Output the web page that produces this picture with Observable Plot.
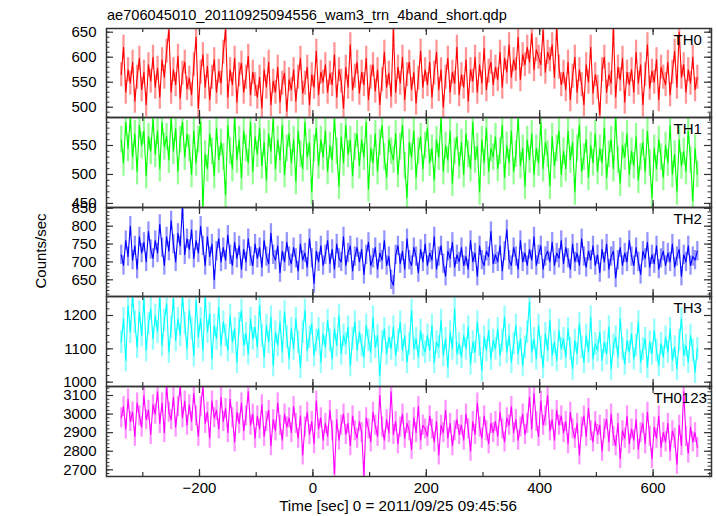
<!DOCTYPE html>
<html><head><meta charset="utf-8">
<script src="https://cdn.jsdelivr.net/npm/d3@7"></script>
<script src="https://cdn.jsdelivr.net/npm/@observablehq/plot@0.6"></script>
<style>
html,body{margin:0;padding:0;background:#fff;}
#chart{position:relative;width:717px;height:516px;font-family:"Liberation Sans",Arial,sans-serif;}
#chart svg{position:absolute;left:0;overflow:visible;}
</style></head><body><div id="chart"></div>
<script>
const titleText = "ae706045010_20110925094556_wam3_trn_4band_short.qdp";
const xLabelText = "Time [sec] 0 = 2011/09/25 09:45:56";
const yLabelText = "Counts/sec";
const bandNames = ["TH0", "TH1", "TH2", "TH3", "TH0123"];
const bandColors = ["#ff0000", "#00ff00", "#0000ff", "#00ffff", "#ff00ff"];
const timeStart = -338, binSize = 4;           // time of first bin, bin width (s)
const xTickLabels = [-200, 0, 200, 400, 600];
const bandErrors = [24, 23, 27, 34, 54];         // 1-sigma error per bin

const th0 = [
565,620,530,575,548,590,512,560,598,535,570,505,585,552,600,
540,578,520,595,560,612,655,530,575,545,602,518,568,590,537,
558,525,585,640,498,570,605,540,582,515,560,595,530,572,548,
610,655,520,575,545,598,510,565,588,530,560,602,525,570,545,
520,560,498,575,540,590,505,552,530,580,510,548,568,492,555,
535,575,512,560,598,528,548,580,505,565,540,612,525,570,550,
585,530,568,545,605,520,575,552,498,580,540,625,535,562,590,
528,570,545,598,515,560,585,532,575,505,555,610,540,568,522,
655,530,580,548,600,515,565,590,535,570,508,558,612,540,575,
545,590,520,568,610,535,575,500,560,598,530,570,548,620,525,
565,540,595,512,575,552,600,530,585,548,618,535,572,590,545,
580,555,610,540,598,570,625,560,595,575,640,555,605,585,620,
590,648,575,615,600,585,655,570,610,595,625,560,657,580,545,
570,535,590,515,562,600,530,575,545,505,585,550,620,528,565,
540,485,575,600,530,565,548,657,520,580,555,598,510,570,545,
575,530,610,548,585,505,565,625,538,572,550,595,515,580,560,
545,590,525,570,612,540,650,560,585,530,575,548,600,535,560];

const th1 = [
560,520,590,545,598,530,570,505,585,550,575,498,565,540,596,
535,575,510,590,548,565,525,598,540,580,505,560,590,530,570,
545,500,575,520,560,590,445,535,510,570,540,498,580,525,555,
530,465,585,540,510,598,525,560,495,575,545,520,590,505,565,
535,580,515,555,490,570,540,596,510,560,525,585,500,545,570,
520,560,488,575,535,510,590,530,555,470,545,580,515,560,530,
575,505,550,525,595,540,480,565,520,585,535,560,498,548,570,
515,560,530,590,475,545,520,570,505,555,585,530,495,560,540,
525,570,500,548,585,515,460,555,530,575,495,540,565,510,550,
580,520,545,490,560,530,598,505,550,525,575,485,540,565,515,
555,500,570,535,510,590,525,548,470,560,520,580,505,545,530,
565,510,540,585,495,550,520,575,505,535,598,515,545,480,560,
525,570,500,545,520,590,510,555,535,480,565,515,545,575,500,
540,510,575,525,555,470,545,585,505,530,560,495,550,520,570,
505,545,520,580,495,535,560,510,598,525,485,550,530,570,500,
540,515,565,490,530,555,505,575,520,460,545,510,560,530,495,
550,520,585,500,535,470,560,515,540,505,575,525,455,545,500];

const th2 = [
720,690,760,715,800,705,745,680,770,725,755,700,785,735,710,
760,725,805,740,690,770,730,815,750,700,780,745,853,720,765,
735,790,710,760,725,800,745,690,770,715,750,650,730,765,700,
740,705,775,720,690,755,710,745,680,735,700,765,715,690,750,
710,740,685,760,715,695,780,720,705,745,670,730,700,755,715,
695,740,710,675,750,705,725,685,765,710,640,730,700,745,690,
720,760,695,735,680,750,710,700,770,690,725,745,675,715,740,
700,735,665,720,755,690,710,740,680,725,705,760,690,715,650,
635,720,745,695,730,680,765,705,690,740,715,670,735,700,750,
690,725,705,770,680,715,745,695,660,730,710,755,685,720,700,
740,690,715,680,760,700,725,660,745,705,690,730,715,785,695,
720,700,745,675,730,790,705,690,740,715,680,760,700,725,690,
735,705,770,690,720,745,680,715,730,700,755,690,725,710,760,
695,740,710,680,750,700,725,690,765,715,685,730,705,745,690,
720,670,735,700,750,680,715,730,655,705,740,690,725,700,760,
715,690,740,700,665,730,710,755,685,720,695,745,680,710,730,
690,725,700,750,685,715,735,660,720,700,745,690,715,705,730];

const th3 = [
1120,1190,1065,1230,1150,1257,1180,1105,1210,1140,1250,1095,1175,1220,1130,
1200,1150,1257,1110,1185,1235,1090,1165,1250,1125,1190,1140,1257,1175,1100,
1215,1160,1080,1245,1135,1190,1095,1257,1150,1205,1070,1170,1130,1225,1110,
1180,1140,1095,1200,1120,1160,1060,1175,1215,1110,1145,1085,1190,1130,1165,
1105,1230,1140,1075,1170,1120,1195,1050,1150,1110,1180,1090,1210,1135,1070,
1160,1100,1190,1120,1045,1150,1215,1095,1135,1175,1080,1125,1160,1060,1145,
1105,1185,1125,1070,1160,1110,1200,1085,1140,1115,1165,1050,1130,1180,1095,
1150,1110,1075,1170,1125,1090,1195,1105,1140,1020,1120,1160,1085,1135,1100,
1165,1080,1125,1180,1095,1140,1060,1115,1215,1100,1130,1075,1155,1110,1090,
1140,1095,1170,1060,1120,1105,1185,1080,1130,1045,1150,1100,1220,1085,1115,
1075,1140,1100,1165,1055,1120,1090,1180,1110,1035,1135,1095,1155,1070,1125,
1100,1160,1080,1125,1195,1090,1140,1060,1115,1170,1085,1130,1050,1105,1150,
1240,1090,1130,1070,1170,1105,1045,1145,1095,1185,1080,1120,1065,1155,1100,
1130,1075,1160,1100,1040,1125,1085,1175,1105,1060,1140,1090,1195,1070,1115,
1095,1150,1065,1120,1085,1165,1040,1110,1135,1075,1190,1100,1055,1125,1090,
1145,1070,1110,1180,1060,1100,1130,1045,1120,1085,1155,1095,1050,1115,1075,
1135,1090,1160,1065,1105,1040,1125,1190,1080,1110,1060,1140,1095,1030,1100];

const th0123 = [
2980,3040,2920,3080,2960,3010,2880,3060,2990,2930,3100,2970,3020,2890,3050,
3000,3120,2950,3060,2900,3148,3010,2970,3090,2930,3040,3148,2980,3070,2940,
3050,2960,3110,2990,2880,3040,3148,2950,3010,2870,3070,2980,3020,2920,3090,
2960,3030,2900,3080,2980,2850,3010,2950,3060,2910,2990,3120,2940,3000,2870,
2990,2920,3050,2880,2960,3020,2830,2970,2910,3060,2940,2860,3000,2930,2980,
2900,3040,2950,2870,2990,2780,2930,3010,2890,2960,2840,3070,2920,2980,2860,
2950,2880,3020,2910,2680,2970,2860,2940,3000,2890,2950,2830,2990,2910,2870,
2960,2900,2670,2980,2920,2850,3010,2940,2880,3100,2930,2860,2970,2900,3120,
2890,2960,2840,2930,3000,2870,2950,2910,2810,2980,2900,3040,2860,2940,2920,
2880,2990,2920,2850,2960,2780,2940,2900,3020,2870,2950,2830,2910,2970,2890,
2940,2860,3000,2920,2800,2960,2890,3060,2930,2870,2990,2910,2840,2950,2900,
2960,2880,3010,2920,2850,2980,2940,3040,2900,2970,2860,2930,3000,2890,2950,
3090,2920,3110,2960,2880,3070,2940,2990,3100,2910,2970,2860,3020,2940,2990,
2900,2960,2840,3010,2920,2870,2950,2780,2930,2990,2880,3030,2910,2850,2960,
2890,2940,2800,2920,2970,2850,3000,2880,2830,2950,2760,2910,2870,2990,2840,
2920,2860,2970,2810,2900,2950,2840,3010,2880,2760,2930,2870,2990,2820,2900,
2850,2950,2800,2910,2870,2730,2940,2830,3120,2880,2790,2930,2850,2900,2820];

const series = [th0, th1, th2, th3, th0123];
const yDomains = [[479.4, 657.4], [443, 598.3], [603.3, 852.3], [987, 1257], [2664, 3148.5]];
const yMajorTicks = [[500, 550, 600, 650], [450, 500, 550], [650, 700, 750, 800, 850], [1000, 1100, 1200], [2700, 2800, 2900, 3000, 3100]];
const yMinorSteps = [10, 10, 10, 20, 20];

// layout
const W = 717, mL = 106, mR = 6;
const innerW = W - mL - mR;
const panelTops = [28, 117, 207, 296, 386];
const panelHeights = [89, 90, 89, 90, 90];
const xDomain = [-364, 703];
const axisColor = "#333";
const fmt = d => d < 0 ? "\u2212" + Math.abs(d) : String(d);
const barWidth = innerW * binSize / (xDomain[1] - xDomain[0]);

const chart = document.getElementById("chart");
const xTicks100 = d3.range(-300, 701, 100);

series.forEach((vals, i) => {
  const data = vals.map((v, k) => ({t: timeStart + k * binSize, v}));
  const err = bandErrors[i];
  const [lo, hi] = yDomains[i];
  const step = yMinorSteps[i];
  const minors = d3.range(Math.ceil(lo / step) * step, hi, step);
  const h = panelHeights[i];
  const last = i === series.length - 1;
  const color = bandColors[i];
  const marks = [
    Plot.ruleX(data, {x: "t", y1: d => d.v - err, y2: d => d.v + err, stroke: color, strokeOpacity: 0.42, strokeWidth: barWidth, clip: true}),
    Plot.lineY(data, {x: "t", y: "v", stroke: color, strokeWidth: 1.1, clip: true}),
    // x ticks top & bottom (inward)
    Plot.tickX(xTicks100, {x: d => d, insetBottom: h - 4, stroke: axisColor, strokeWidth: 1.2}),
    Plot.tickX(xTicks100, {x: d => d, insetTop: h - 4, stroke: axisColor, strokeWidth: 1.2}),
    Plot.tickX(xTickLabels, {x: d => d, insetBottom: h - 7, stroke: axisColor, strokeWidth: 1.2}),
    Plot.tickX(xTickLabels, {x: d => d, insetTop: h - 7, stroke: axisColor, strokeWidth: 1.2}),
    // y ticks left & right (inward)
    Plot.tickY(minors, {y: d => d, insetRight: innerW - 3.5, stroke: axisColor, strokeWidth: 1}),
    Plot.tickY(minors, {y: d => d, insetLeft: innerW - 3.5, stroke: axisColor, strokeWidth: 1}),
    Plot.tickY(yMajorTicks[i], {y: d => d, insetRight: innerW - 7, stroke: axisColor, strokeWidth: 1.2}),
    Plot.tickY(yMajorTicks[i], {y: d => d, insetLeft: innerW - 7, stroke: axisColor, strokeWidth: 1.2}),
    Plot.frame({stroke: axisColor, strokeWidth: 1.5}),
    Plot.axisY(yMajorTicks[i], {anchor: "left", label: null, tickSize: 0, tickPadding: 10, fontSize: 15, tickFormat: fmt, fill: "#000"}),
    Plot.text([bandNames[i]], {frameAnchor: "top-left", text: d => d, dx: last ? 547 : 567, dy: 5.4, lineAnchor: "top", textAnchor: "start", fontSize: 15, fill: "#000"})
  ];
  if (last) {
    marks.push(Plot.axisX(xTickLabels, {anchor: "bottom", label: null, tickSize: 0, tickPadding: 6, fontSize: 15, tickFormat: fmt, fill: "#000"}));
  }
  const svg = Plot.plot({
    width: W,
    height: h + (last ? 40 : 0),
    marginLeft: mL, marginRight: mR,
    marginTop: 0, marginBottom: last ? 40 : 0,
    x: {domain: xDomain, axis: null, label: null},
    y: {domain: [lo, hi], axis: null, label: null},
    style: {fontFamily: "Liberation Sans, Arial, sans-serif", fontSize: "15px", background: "transparent", overflow: "visible", color: "#000"},
    marks
  });
  svg.style.top = panelTops[i] + "px";
  chart.appendChild(svg);
});

// titles
const overlay = d3.create("svg").attr("width", W).attr("height", 516)
  .style("top", "0px").style("pointer-events", "none")
  .style("font-family", "Liberation Sans, Arial, sans-serif");
overlay.append("text").attr("x", 107).attr("y", 20).attr("font-size", 14.6).attr("fill", "#000").text(titleText);
overlay.append("text").attr("x", 398).attr("y", 511).attr("font-size", 15.2).attr("text-anchor", "middle").attr("fill", "#000").text(xLabelText);
overlay.append("text").attr("transform", "translate(46,251) rotate(-90)").attr("font-size", 15).attr("text-anchor", "middle").attr("fill", "#000").text(yLabelText);
chart.appendChild(overlay.node());
</script></body></html>
